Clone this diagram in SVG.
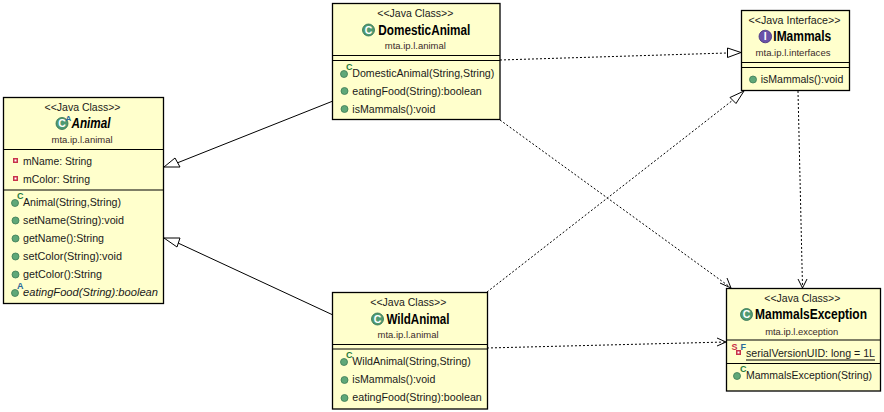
<svg xmlns="http://www.w3.org/2000/svg" width="884" height="412" viewBox="0 0 884 412">
<style>
text{font-family:"Liberation Sans",Arial,sans-serif;fill:#1a1a1a}
.box{fill:#ffffcc;stroke:#000;stroke-width:1.3}
.sep{stroke:#000;stroke-width:1.2;fill:none}
.st{font-size:10.5px;text-anchor:middle}
.pk{font-size:9.5px;text-anchor:middle;fill:#3a2a2a}
.nm{font-size:14px;font-weight:700;fill:#000}
.m{font-size:11px}
.dot{fill:#5fa878;stroke:#3b7a55;stroke-width:.8}
.ci{fill:#4f9a72;stroke:#2f6f4f;stroke-width:.8}
.ii{fill:#6a52a8;stroke:#43307c;stroke-width:.8}
.g{font-size:10.5px;font-weight:700;fill:#fff;text-anchor:middle}
.sup{font-size:9px;font-weight:700;fill:#1f7a3d}
.solid{stroke:#000;stroke-width:1;fill:none}
.dash{stroke:#000;stroke-width:1;fill:none;stroke-dasharray:2 2}
.open{stroke:#000;stroke-width:1;fill:#fff}
.vee{stroke:#000;stroke-width:1;fill:none}
</style>
<g id="connectors">
<path class="solid" d="M333 101L177 163"/><path class="open" d="M164 167L175 158L180 167Z"/>
<path class="solid" d="M333 315L178 243"/><path class="open" d="M164 238L180 238L177 247Z"/>
<path class="dash" d="M500 60L727 53"/><path class="open" d="M741 52.500L727.500 48L727.500 57.500Z"/>
<path class="dash" d="M487 292L733 100"/><path class="open" d="M744 91L730 97.500L736 103.500Z"/>
<path class="dash" d="M798 91L802.500 287"/><path class="vee" d="M798 279L802.500 288L807 279"/>
<path class="dash" d="M500 120L730 287"/><path class="vee" d="M720 283L731 288L727 278"/>
<path class="dash" d="M487 348L726 342"/><path class="vee" d="M717 338L726 342L717 346"/>
</g>
<g id="Animal">
<rect class="box" x="3.500" y="97.500" width="160" height="206"/>
<path class="sep" d="M3.500 149.500H163.500M3.500 190H163.500"/>
<text class="st" x="82.500" y="111" textLength="76" lengthAdjust="spacingAndGlyphs">&lt;&lt;Java Class&gt;&gt;</text>
<circle class="ci" cx="62" cy="123.500" r="6"/><text class="g" x="62" y="127">C</text><text class="sup" x="65.500" y="120.500" style="fill:#2a6a9a;font-size:8px">A</text>
<text class="nm" x="71.500" y="128" font-style="italic" textLength="39" lengthAdjust="spacingAndGlyphs">Animal</text>
<text class="pk" x="82" y="143" textLength="61" lengthAdjust="spacingAndGlyphs">mta.ip.l.animal</text>
<rect x="13" y="158" width="5" height="5" fill="#c8324a"/><rect x="14.500" y="159.500" width="2" height="2" fill="#fff"/>
<text class="m" x="23" y="165" textLength="69" lengthAdjust="spacingAndGlyphs">mName: String</text>
<rect x="13" y="176" width="5" height="5" fill="#c8324a"/><rect x="14.500" y="177.500" width="2" height="2" fill="#fff"/>
<text class="m" x="23" y="183" textLength="67" lengthAdjust="spacingAndGlyphs">mColor: String</text>
<circle class="dot" cx="15" cy="203" r="3.500"/><text class="sup" x="17" y="199">C</text>
<text class="m" x="23" y="206" textLength="98" lengthAdjust="spacingAndGlyphs">Animal(String,String)</text>
<circle class="dot" cx="15.500" cy="220.500" r="3.500"/><text class="m" x="23" y="224" textLength="101" lengthAdjust="spacingAndGlyphs">setName(String):void</text>
<circle class="dot" cx="15.500" cy="238.500" r="3.500"/><text class="m" x="23" y="242" textLength="81" lengthAdjust="spacingAndGlyphs">getName():String</text>
<circle class="dot" cx="15.500" cy="256.500" r="3.500"/><text class="m" x="23" y="260" textLength="99" lengthAdjust="spacingAndGlyphs">setColor(String):void</text>
<circle class="dot" cx="15.500" cy="274.500" r="3.500"/><text class="m" x="23" y="278" textLength="79" lengthAdjust="spacingAndGlyphs">getColor():String</text>
<circle class="dot" cx="15" cy="293" r="3.500"/><text class="sup" x="17" y="289" style="fill:#2a6a9a">A</text>
<text class="m" x="23" y="296" font-style="italic" textLength="135" lengthAdjust="spacingAndGlyphs">eatingFood(String):boolean</text>
</g>
<g id="DomesticAnimal">
<rect class="box" x="332.500" y="3.500" width="167.500" height="116"/>
<path class="sep" d="M332.500 55.500H500M332.500 60.500H500"/>
<text class="st" x="415.300" y="17" textLength="76" lengthAdjust="spacingAndGlyphs">&lt;&lt;Java Class&gt;&gt;</text>
<circle class="ci" cx="368.500" cy="30" r="6"/><text class="g" x="368.500" y="33.500">C</text>
<text class="nm" x="378.300" y="34.500" textLength="92" lengthAdjust="spacingAndGlyphs">DomesticAnimal</text>
<text class="pk" x="415.300" y="49" textLength="61" lengthAdjust="spacingAndGlyphs">mta.ip.l.animal</text>
<circle class="dot" cx="344" cy="74" r="3.500"/><text class="sup" x="346" y="70">C</text>
<text class="m" x="352.300" y="77" textLength="142" lengthAdjust="spacingAndGlyphs">DomesticAnimal(String,String)</text>
<circle class="dot" cx="344.500" cy="91" r="3.500"/><text class="m" x="352.300" y="95" textLength="129.500" lengthAdjust="spacingAndGlyphs">eatingFood(String):boolean</text>
<circle class="dot" cx="344.500" cy="109" r="3.500"/><text class="m" x="352.300" y="113" textLength="83" lengthAdjust="spacingAndGlyphs">isMammals():void</text>
</g>
<g id="WildAnimal">
<rect class="box" x="332.500" y="292.500" width="155" height="116.500"/>
<path class="sep" d="M332.500 344.500H487.500M332.500 349H487.500"/>
<text class="st" x="408.300" y="306" textLength="76" lengthAdjust="spacingAndGlyphs">&lt;&lt;Java Class&gt;&gt;</text>
<circle class="ci" cx="377.500" cy="319" r="6"/><text class="g" x="377.500" y="322.500">C</text>
<text class="nm" x="386.500" y="323.500" textLength="63" lengthAdjust="spacingAndGlyphs">WildAnimal</text>
<text class="pk" x="408" y="338" textLength="61" lengthAdjust="spacingAndGlyphs">mta.ip.l.animal</text>
<circle class="dot" cx="344" cy="362" r="3.500"/><text class="sup" x="346" y="358">C</text>
<text class="m" x="352.300" y="365" textLength="118.500" lengthAdjust="spacingAndGlyphs">WildAnimal(String,String)</text>
<circle class="dot" cx="344.500" cy="380" r="3.500"/><text class="m" x="352.300" y="383" textLength="83" lengthAdjust="spacingAndGlyphs">isMammals():void</text>
<circle class="dot" cx="344.500" cy="398" r="3.500"/><text class="m" x="352.300" y="401" textLength="129.500" lengthAdjust="spacingAndGlyphs">eatingFood(String):boolean</text>
</g>
<g id="IMammals">
<rect class="box" x="741.500" y="10.500" width="108" height="80"/>
<path class="sep" d="M741.500 62.500H849.500M741.500 67.500H849.500"/>
<text class="st" x="794.500" y="24" textLength="92" lengthAdjust="spacingAndGlyphs">&lt;&lt;Java Interface&gt;&gt;</text>
<circle class="ii" cx="765.300" cy="36.500" r="6.300"/><text class="g" x="765.300" y="40">I</text>
<text class="nm" x="773.300" y="41" textLength="58" lengthAdjust="spacingAndGlyphs">IMammals</text>
<text class="pk" x="793" y="56" textLength="75" lengthAdjust="spacingAndGlyphs">mta.ip.l.interfaces</text>
<circle class="dot" cx="753" cy="79.500" r="3.500"/><text class="m" x="760.700" y="83" textLength="82.600" lengthAdjust="spacingAndGlyphs">isMammals():void</text>
</g>
<g id="MammalsException">
<rect class="box" x="726.500" y="288.500" width="154" height="102.500"/>
<path class="sep" d="M726.500 340H880.500M726.500 363.500H880.500"/>
<text class="st" x="802.300" y="302" textLength="76" lengthAdjust="spacingAndGlyphs">&lt;&lt;Java Class&gt;&gt;</text>
<circle class="ci" cx="746.500" cy="314.500" r="6"/><text class="g" x="746.500" y="318">C</text>
<text class="nm" x="755" y="319" textLength="112" lengthAdjust="spacingAndGlyphs">MammalsException</text>
<text class="pk" x="801.700" y="335" textLength="73" lengthAdjust="spacingAndGlyphs">mta.ip.l.exception</text>
<text class="sup" x="731.500" y="350" style="fill:#c8324a">S</text><text class="sup" x="740.500" y="349.500" style="fill:#2a6a9a">F</text>
<rect x="736" y="350" width="5" height="5" fill="#c8324a"/><rect x="737.500" y="351.500" width="2" height="2" fill="#fff"/>
<text class="m" x="746" y="357" textLength="129" lengthAdjust="spacingAndGlyphs">serialVersionUID: long = 1L</text>
<path d="M746 360H875" stroke="#000" stroke-width="1"/>
<circle class="dot" cx="737" cy="376" r="3.500"/><text class="sup" x="740" y="372">C</text>
<text class="m" x="746" y="379" textLength="126" lengthAdjust="spacingAndGlyphs">MammalsException(String)</text>
</g>
</svg>
